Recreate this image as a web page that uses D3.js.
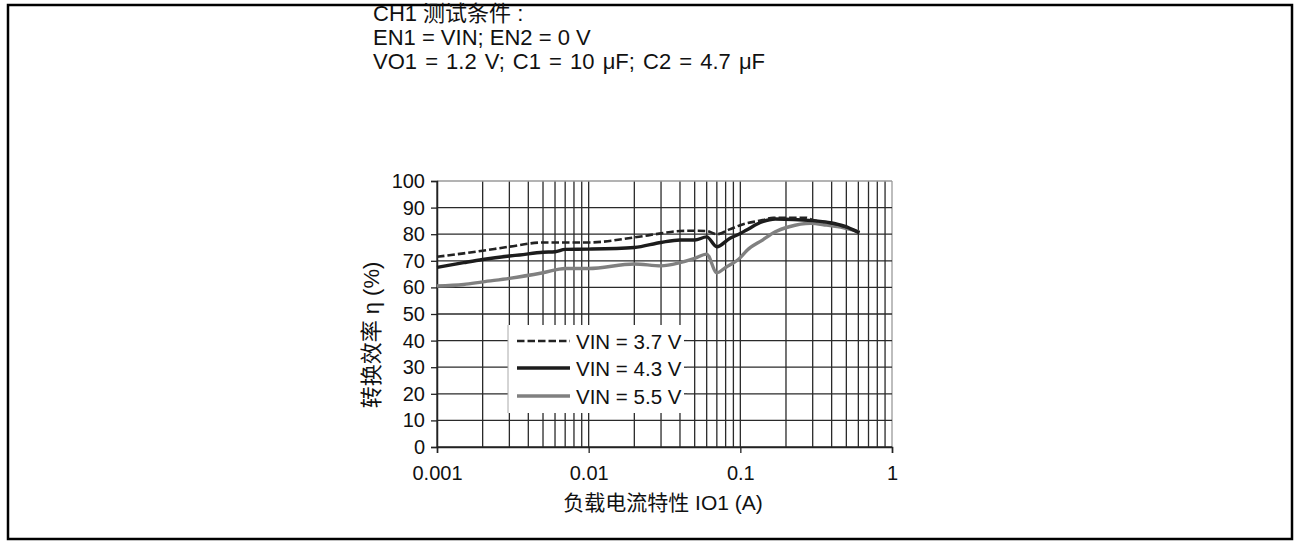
<!DOCTYPE html>
<html>
<head>
<meta charset="utf-8">
<script src="https://cdn.jsdelivr.net/npm/d3@7"></script>
<style>
  html, body { margin: 0; padding: 0; background: #fff; }
  svg { display: block; }
  text { font-family: "Liberation Sans", Arial, "Noto Sans CJK SC", sans-serif; fill: #111; }
</style>
</head>
<body>
<svg id="chart" width="1294" height="541"></svg>
<script>
// Load current IO1 (A)
const current37 = [0.001, 0.0015, 0.002, 0.003, 0.005, 0.01, 0.02, 0.03, 0.04, 0.05, 0.06, 0.07, 0.085, 0.1, 0.14, 0.165, 0.27, 0.3, 0.39, 0.5, 0.61];
const eff37     = [71.5, 72.8, 73.8, 75.3, 76.9, 76.9, 78.8, 80.3, 81.2, 81.3, 81.2, 80.0, 81.8, 83.4, 85.3, 86.2, 86.2, 85.3, 84.3, 82.6, 80.5];

const current43 = [0.001, 0.0015, 0.002, 0.003, 0.0035, 0.005, 0.006, 0.007, 0.01, 0.02, 0.03, 0.04, 0.05, 0.06, 0.07, 0.085, 0.1, 0.11, 0.14, 0.17, 0.3, 0.39, 0.48, 0.61];
const eff43     = [67.5, 69.3, 70.5, 71.8, 72.2, 73.2, 73.4, 74.3, 74.4, 75.0, 76.9, 77.8, 77.8, 79.0, 75.3, 78.4, 80.3, 81.6, 84.7, 85.7, 85.1, 84.3, 83.1, 80.5];

const current55 = [0.001, 0.0015, 0.002, 0.003, 0.005, 0.007, 0.01, 0.02, 0.03, 0.04, 0.05, 0.06, 0.07, 0.08, 0.1, 0.11, 0.14, 0.17, 0.21, 0.29, 0.37, 0.48, 0.61];
const eff55     = [60.5, 61.1, 62.1, 63.4, 65.5, 67.1, 67.1, 68.8, 68.1, 69.3, 70.9, 72.5, 65.5, 67.5, 71.2, 73.8, 77.8, 80.9, 82.8, 84.1, 83.4, 82.4, 80.9];

const seriesNames = ["VIN = 3.7 V", "VIN = 4.3 V", "VIN = 5.5 V"];
const xTickValues = [0.001, 0.01, 0.1, 1];
const xTickLabels = ["0.001", "0.01", "0.1", "1"];
const yTickValues = [0, 10, 20, 30, 40, 50, 60, 70, 80, 90, 100];
const headerLines = ["CH1 测试条件 :", "EN1 = VIN; EN2 = 0 V", "VO1 = 1.2 V; C1 = 10 μF; C2 = 4.7 μF"];
const xTitle = "负载电流特性 IO1 (A)";
const yTitle = "转换效率 η (%)";

const svg = d3.select("#chart");

// outer frame
svg.append("rect")
  .attr("x", 8).attr("y", 5).attr("width", 1284).attr("height", 534)
  .attr("fill", "none").attr("stroke", "#000").attr("stroke-width", 2.5);

// header text block
svg.append("g").selectAll("text").data(headerLines).join("text")
  .attr("x", 373).attr("y", (d, i) => 21 + i * 24)
  .attr("font-size", 22)
  .attr("word-spacing", (d, i) => i === 2 ? 2 : 0)
  .text(d => d);

const plotLeft = 437, plotRight = 892, plotTop = 181, plotBottom = 447;
const x = d3.scaleLog().domain([0.001, 1]).range([plotLeft, plotRight]);
const y = d3.scaleLinear().domain([0, 100]).range([plotBottom, plotTop]);

const plot = svg.append("g");

// vertical grid: every 1..9 per decade
const minorX = [];
[0.001, 0.01, 0.1].forEach(dec => { for (let k = 1; k <= 9; k++) minorX.push(dec * k); });
minorX.push(1);
plot.append("g").selectAll("line").data(minorX).join("line")
  .attr("x1", d => x(d)).attr("x2", d => x(d))
  .attr("y1", plotTop).attr("y2", plotBottom)
  .attr("stroke", d => d === 1 ? "#9a9a9a" : "#2a2a2a")
  .attr("stroke-width", 1.3);

// horizontal grid
plot.append("g").selectAll("line").data(yTickValues).join("line")
  .attr("x1", plotLeft).attr("x2", plotRight)
  .attr("y1", d => y(d)).attr("y2", d => y(d))
  .attr("stroke", d => d === 100 ? "#9a9a9a" : "#2a2a2a")
  .attr("stroke-width", 1.3);

// axes
const yAxis = d3.axisLeft(y).tickValues(yTickValues).tickSize(6).tickPadding(6).tickFormat(d3.format("d"));
const gy = plot.append("g").attr("transform", `translate(${plotLeft},0)`).call(yAxis);
gy.select(".domain").attr("stroke", "#222").attr("stroke-width", 1.5);
gy.selectAll(".tick line").attr("stroke", "#222").attr("stroke-width", 1.3);
gy.selectAll(".tick text").attr("font-size", 20).attr("fill", "#111")
  .attr("font-family", "Liberation Sans, Arial, sans-serif");

const xAxis = d3.axisBottom(x).tickValues(xTickValues).tickSize(6).tickPadding(13)
  .tickFormat((d, i) => xTickLabels[i]);
const gx = plot.append("g").attr("transform", `translate(0,${plotBottom})`).call(xAxis);
gx.select(".domain").attr("stroke", "#222").attr("stroke-width", 1.5);
gx.selectAll(".tick line").attr("stroke", "#222").attr("stroke-width", 1.3);
gx.selectAll(".tick text").attr("font-size", 20).attr("fill", "#111")
  .attr("font-family", "Liberation Sans, Arial, sans-serif");

// axis titles
svg.append("text")
  .attr("x", 663).attr("y", 510).attr("text-anchor", "middle")
  .attr("font-size", 21).text(xTitle);
svg.append("text")
  .attr("transform", "translate(379,335) rotate(-90)")
  .attr("text-anchor", "middle").attr("font-size", 22).text(yTitle);

// curves
const line = d3.line().x(d => x(d[0])).y(d => y(d[1])).curve(d3.curveMonotoneX);
const styles = [
  { color: "#222", width: 2.6, dash: "7.5,3" },
  { color: "#1c1c1c", width: 3.4, dash: null },
  { color: "#808080", width: 3.4, dash: null }
];
const series = [
  d3.zip(current37, eff37),
  d3.zip(current43, eff43),
  d3.zip(current55, eff55)
];
[2, 1, 0].forEach(i => {
  plot.append("path").datum(series[i])
    .attr("d", line)
    .attr("fill", "none")
    .attr("stroke", styles[i].color)
    .attr("stroke-width", styles[i].width)
    .attr("stroke-dasharray", styles[i].dash)
    .attr("stroke-linejoin", "round");
});

// legend
const lg = svg.append("g");
lg.append("rect").attr("x", 508).attr("y", 325).attr("width", 179).attr("height", 88)
  .attr("fill", "#fff");
lg.append("line").attr("x1", 508).attr("x2", 508).attr("y1", 325).attr("y2", 413)
  .attr("stroke", "#aaa").attr("stroke-width", 1);
const rowY = [341, 368, 396];
seriesNames.forEach((name, i) => {
  lg.append("line")
    .attr("x1", 517).attr("x2", 570).attr("y1", rowY[i]).attr("y2", rowY[i])
    .attr("stroke", styles[i].color).attr("stroke-width", styles[i].width)
    .attr("stroke-dasharray", styles[i].dash);
  lg.append("text").attr("x", 576).attr("y", rowY[i] + 7.5)
    .attr("font-size", 20.5).text(name);
});
// gridline stubs meeting the legend's right edge
lg.selectAll("line.stub").data(yTickValues.filter(v => y(v) > 325 && y(v) < 413)).join("line")
  .attr("class", "stub")
  .attr("x1", 684).attr("x2", 687).attr("y1", d => y(d)).attr("y2", d => y(d))
  .attr("stroke", "#2a2a2a").attr("stroke-width", 1.3);
</script>
</body>
</html>
